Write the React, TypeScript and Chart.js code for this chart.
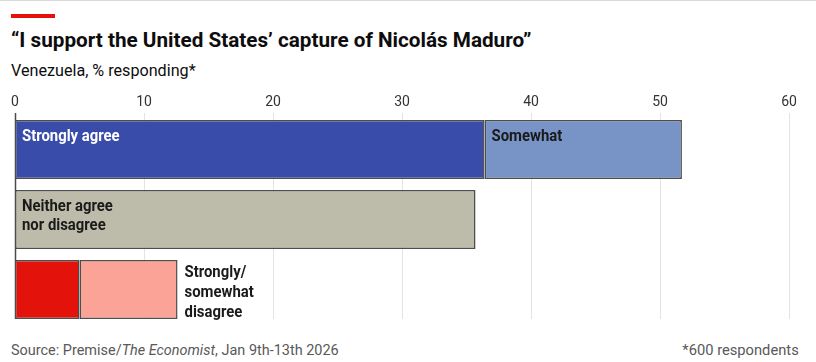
import React, { useEffect, useRef } from "react";
import { Chart, registerables } from "chart.js";

Chart.register(...registerables);

const categories = ["Agree", "Neither agree nor disagree", "Disagree"];
const stronglyValues = [36.4, 35.7, 5.0];
const somewhatValues: (number | null)[] = [15.3, null, 7.6];
const stronglyColors = ["#3a4caa", "#bdbcab", "#e3120b"];
const somewhatColors = ["#7893c6", "#bdbcab", "#fba396"];
const stronglyLabels = [["Strongly agree"], ["Neither agree", "nor disagree"], []];
const somewhatLabels = [["Somewhat"], [], []];
const outsideLabels = [[], [], ["Strongly/", "somewhat", "disagree"]];
const xMin = 0;
const xMax = 60;
const xStep = 10;

const FONT = "Roboto, 'Noto Sans', sans-serif";
const LABEL_COND = 0.93;

function drawCondensed(ctx: CanvasRenderingContext2D, text: string, x: number, y: number) {
  ctx.save();
  ctx.translate(x, y);
  ctx.scale(LABEL_COND, 1);
  ctx.fillText(text, 0, 0);
  ctx.restore();
}

const gridPlugin = {
  id: "customGrid",
  beforeDatasetsDraw(chart: any) {
    const { ctx, chartArea } = chart;
    const xs = chart.scales.x;
    const meta = chart.getDatasetMeta(0);
    const last = meta.data[meta.data.length - 1];
    const bottom = last.y + last.height / 2;
    ctx.save();
    for (let v = xMin; v <= xMax; v += xStep) {
      const px = Math.round(xs.getPixelForValue(v)) + 0.5;
      ctx.beginPath();
      ctx.strokeStyle = v === 0 ? "#4a4a4a" : "#e3e3e3";
      ctx.lineWidth = v === 0 ? 1.5 : 1;
      ctx.moveTo(px, chartArea.top - 1.5);
      ctx.lineTo(px, bottom);
      ctx.stroke();
    }
    ctx.restore();
  },
};

const labelPlugin = {
  id: "barLabels",
  afterDatasetsDraw(chart: any) {
    const { ctx } = chart;
    const m0 = chart.getDatasetMeta(0);
    const m1 = chart.getDatasetMeta(1);
    ctx.save();
    ctx.textAlign = "left";
    ctx.textBaseline = "alphabetic";
    ctx.font = `700 16px ${FONT}`;
    categories.forEach((_, i) => {
      const b0 = m0.data[i];
      const top = b0.y - b0.height / 2;
      ctx.fillStyle = i === 0 ? "#ffffff" : "#1a1a1a";
      stronglyLabels[i].forEach((t, k) => drawCondensed(ctx, t, Math.min(b0.base, b0.x) + 7, top + 21 + k * 18.5));
      const b1 = m1.data[i];
      ctx.fillStyle = "#1a1a1a";
      somewhatLabels[i].forEach((t, k) => drawCondensed(ctx, t, Math.min(b1.base, b1.x) + 7, top + 21 + k * 18.5));
      const endX = somewhatValues[i] != null ? b1.x : b0.x;
      outsideLabels[i].forEach((t, k) => drawCondensed(ctx, t, endX + 7, top + 17 + k * 20));
    });
    ctx.restore();
  },
};

export default function App() {
  const ref = useRef<HTMLCanvasElement>(null);
  useEffect(() => {
    if (!ref.current) return;
    const chart = new Chart(ref.current, {
      type: "bar",
      data: {
        labels: categories,
        datasets: [
          {
            label: "Strongly",
            data: stronglyValues,
            backgroundColor: stronglyColors,
            borderColor: "#4d4d4d",
            borderWidth: 1.5,
            borderSkipped: false,
            categoryPercentage: 1,
            barPercentage: 59 / 70,
          },
          {
            label: "Somewhat",
            data: somewhatValues,
            backgroundColor: somewhatColors,
            borderColor: "#4d4d4d",
            borderWidth: 1.5,
            borderSkipped: false,
            categoryPercentage: 1,
            barPercentage: 59 / 70,
          },
        ],
      },
      options: {
        indexAxis: "y",
        responsive: false,
        animation: false,
        layout: { padding: { left: 15, right: 27, top: 0, bottom: 5.5 } },
        plugins: { legend: { display: false }, tooltip: { enabled: false } },
        scales: {
          x: {
            position: "top",
            stacked: true,
            min: xMin,
            max: xMax,
            grid: { display: false, drawTicks: false },
            border: { display: false },
            afterFit: (scale: any) => {
              scale.height = 24.5;
            },
            ticks: {
              stepSize: xStep,
              color: "#333333",
              padding: 3.5,
              font: { family: FONT, size: 14 },
            },
          },
          y: {
            stacked: true,
            display: false,
          },
        },
      },
      plugins: [gridPlugin, labelPlugin],
    });
    return () => chart.destroy();
  }, []);

  const cond = (s: number) => ({ transform: `scaleX(${s})`, transformOrigin: "left top", whiteSpace: "nowrap" as const });
  return (
    <div style={{ position: "absolute", left: 0, top: 0, width: 816, height: 362, background: "#fff", overflow: "hidden", fontFamily: FONT }}>
      <div style={{ position: "absolute", left: 0, top: 0, width: 816, height: 1, background: "#d9d9d9" }} />
      <div style={{ position: "absolute", left: 11, top: 14, width: 44, height: 4, background: "#e3120b" }} />
      <div style={{ position: "absolute", left: 11, top: 27, fontSize: 21, fontWeight: 700, color: "#0d0d0d", lineHeight: "26px", ...cond(0.985) }}>
        “I support the United States’ capture of Nicolás Maduro”
      </div>
      <div style={{ position: "absolute", left: 11, top: 60, fontSize: 17, color: "#0d0d0d", lineHeight: "21px", ...cond(0.95) }}>
        Venezuela, % responding*
      </div>
      <div style={{ position: "absolute", left: 0, top: 90, width: 816, height: 240 }}>
        <canvas ref={ref} width={816} height={240} style={{ width: 816, height: 240, display: "block" }} />
      </div>
      <div style={{ position: "absolute", left: 11, top: 340, fontSize: 15, color: "#595959", lineHeight: "20px", ...cond(0.963) }}>
        Source: Premise/<i>The Economist</i>, Jan 9th-13th 2026
      </div>
      <div style={{ position: "absolute", right: 17, top: 340, fontSize: 15, color: "#595959", lineHeight: "20px", whiteSpace: "nowrap", transform: "scaleX(0.98)", transformOrigin: "right top" }}>
        *600 respondents
      </div>
    </div>
  );
}
